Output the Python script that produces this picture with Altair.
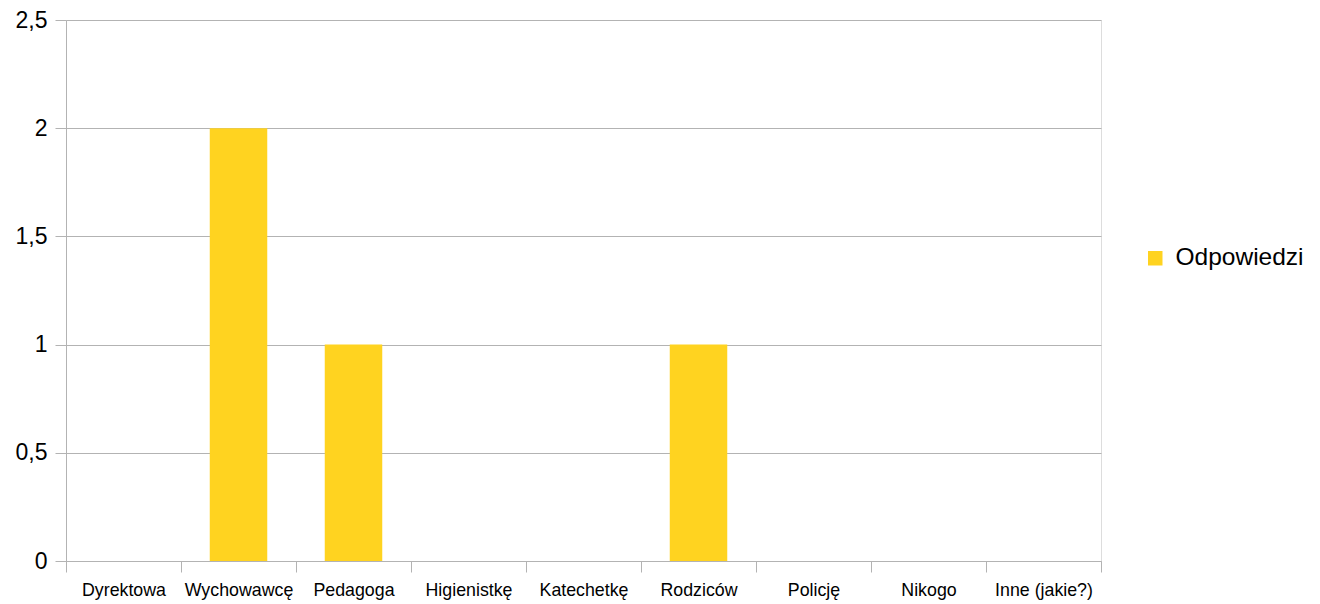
import altair as alt
import pandas as pd

categories = ["Dyrektowa", "Wychowawcę", "Pedagoga", "Higienistkę", "Katechetkę",
              "Rodziców", "Policję", "Nikogo", "Inne (jakie?)"]
values = [0, 2, 1, 0, 0, 1, 0, 0, 0]
series_name = "Odpowiedzi"

df = pd.DataFrame({"kategoria": categories, "wartosc": values, "seria": series_name})

grid_color = "#b3b3b3"
font = "Liberation Sans"

chart = alt.Chart(df).mark_bar(width=alt.RelativeBandSize(0.5)).encode(
    x=alt.X("kategoria:N", sort=categories, title=None,
            scale=alt.Scale(paddingInner=0, paddingOuter=0),
            axis=alt.Axis(labelAngle=0, labelFontSize=17.8, labelColor="#000000", labelFont=font,
                          tickBand="extent", tickSize=11, tickColor=grid_color,
                          domainColor=grid_color, labelPadding=9, grid=False)),
    y=alt.Y("wartosc:Q", title=None,
            scale=alt.Scale(domain=[0, 2.5], nice=False),
            axis=alt.Axis(values=[0, 0.5, 1, 1.5, 2, 2.5], labelFontSize=23, labelColor="#000000",
                          labelFont=font, labelExpr="replace(toString(datum.value), '.', ',')",
                          tickSize=11, tickColor=grid_color, domainColor=grid_color,
                          gridColor=grid_color, labelPadding=8)),
    color=alt.Color("seria:N", title=None,
                    scale=alt.Scale(range=["#FFD320"]),
                    legend=alt.Legend(orient="none", legendX=1077, legendY=226,
                                      symbolType="square", symbolSize=210, symbolStrokeWidth=0,
                                      labelFontSize=24.5, labelFont=font, labelColor="#000000",
                                      labelOffset=8, padding=0)),
).properties(
    width=1035, height=541,
    autosize=alt.AutoSizeParams(type="none"),
    padding={"left": 58, "top": 12, "right": 211, "bottom": 42},
).configure_view(stroke=grid_color, strokeWidth=1).configure(background="#ffffff")

chart.save("out.html", embed_options={"renderer": "svg", "actions": False})
